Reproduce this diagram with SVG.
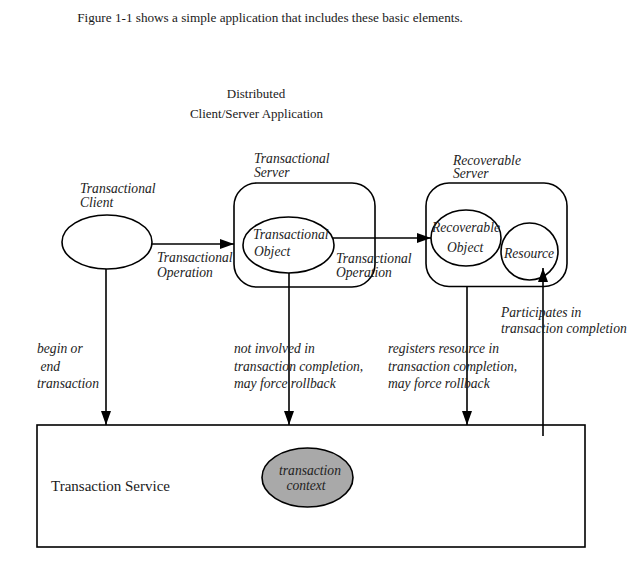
<svg xmlns="http://www.w3.org/2000/svg" width="640" height="581" viewBox="0 0 640 581">
<defs>
<style>
.t{font-family:"Liberation Serif","Times New Roman",serif;fill:#1a1a1a}
.i{font-family:"Liberation Serif","Times New Roman",serif;font-style:italic;font-size:13.6px;fill:#222}
.s{fill:none;stroke:#000;stroke-width:1.6}
.w{fill:#fff;stroke:#000;stroke-width:1.6}
.c{fill:none;stroke:#000;stroke-width:1.6}
</style>
<marker id="ah" markerWidth="14" markerHeight="10" refX="14" refY="5" orient="auto" markerUnits="userSpaceOnUse">
<path d="M0,0 L14,5 L0,10 Z" fill="#000"/>
</marker>
</defs>
<rect width="640" height="581" fill="#fff"/>
<text class="t" x="270" y="22" font-size="13.2" text-anchor="middle">Figure 1-1 shows a simple application that includes these basic elements.</text>
<text class="t" x="256" y="98" font-size="13" text-anchor="middle">Distributed</text>
<text class="t" x="256.5" y="118" font-size="13" text-anchor="middle">Client/Server Application</text>

<g id="client">
<ellipse class="w" cx="107" cy="242" rx="45" ry="27"/>
<text class="i" x="80" y="193">Transactional</text>
<text class="i" x="80" y="207">Client</text>
</g>

<g id="transactional-server">
<rect class="s" x="234" y="183" width="141" height="104" rx="23" ry="23"/>
<text class="i" x="254" y="163">Transactional</text>
<text class="i" x="254" y="177">Server</text>
</g>

<g id="transactional-object">
<ellipse class="w" cx="288.5" cy="245" rx="45.5" ry="28"/>
<text class="i" x="253" y="239">Transactional</text>
<text class="i" x="254" y="256">Object</text>
</g>

<g id="recoverable-server">
<rect class="s" x="426" y="183" width="141" height="103.5" rx="23" ry="23"/>
<text class="i" x="453" y="165">Recoverable</text>
<text class="i" x="453" y="178">Server</text>
</g>

<g id="recoverable-object">
<ellipse class="w" cx="466" cy="238" rx="35" ry="28"/>
<text class="i" x="432" y="232" textLength="68" lengthAdjust="spacingAndGlyphs">Recoverable</text>
<text class="i" x="447" y="252">Object</text>
</g>

<g id="resource">
<circle class="w" cx="529.5" cy="251.5" r="28.5"/>
<text class="i" x="504" y="258">Resource</text>
</g>

<g id="transaction-service">
<rect class="s" x="37" y="425" width="548" height="122"/>
<text class="t" x="51" y="491" font-size="15">Transaction Service</text>
</g>

<g id="transaction-context">
<ellipse cx="307.5" cy="477.5" rx="45.5" ry="29.5" fill="#a9a9a9" stroke="#000" stroke-width="1.6"/>
<text class="i" x="310" y="475" text-anchor="middle" font-size="14">transaction</text>
<text class="i" x="306" y="490" text-anchor="middle" font-size="14">context</text>
</g>

<g id="connectors">
<line class="c" x1="152" y1="244" x2="234" y2="244" marker-end="url(#ah)"/>
<line class="c" x1="333" y1="238" x2="431" y2="238" marker-end="url(#ah)"/>
<line class="c" x1="106" y1="269" x2="106" y2="425" marker-end="url(#ah)"/>
<line class="c" x1="289" y1="273" x2="289" y2="425" marker-end="url(#ah)"/>
<line class="c" x1="467" y1="286.5" x2="467" y2="425" marker-end="url(#ah)"/>
<line class="c" x1="543" y1="436" x2="543" y2="268" marker-end="url(#ah)"/>
</g>

<g id="labels">
<text class="i" x="157" y="262">Transactional</text>
<text class="i" x="157" y="277">Operation</text>
<text class="i" x="336" y="263">Transactional</text>
<text class="i" x="336" y="277">Operation</text>
<text class="i" x="37" y="353">begin or</text>
<text class="i" x="37" y="371" xml:space="preserve"> end</text>
<text class="i" x="37" y="388">transaction</text>
<text class="i" x="234" y="353">not involved in</text>
<text class="i" x="234" y="371">transaction completion,</text>
<text class="i" x="234" y="388">may force rollback</text>
<text class="i" x="388" y="353">registers resource in</text>
<text class="i" x="388" y="371">transaction completion,</text>
<text class="i" x="388" y="388">may force rollback</text>
<text class="i" x="501" y="317">Participates in</text>
<text class="i" x="501" y="333">transaction completion</text>
</g>
</svg>
